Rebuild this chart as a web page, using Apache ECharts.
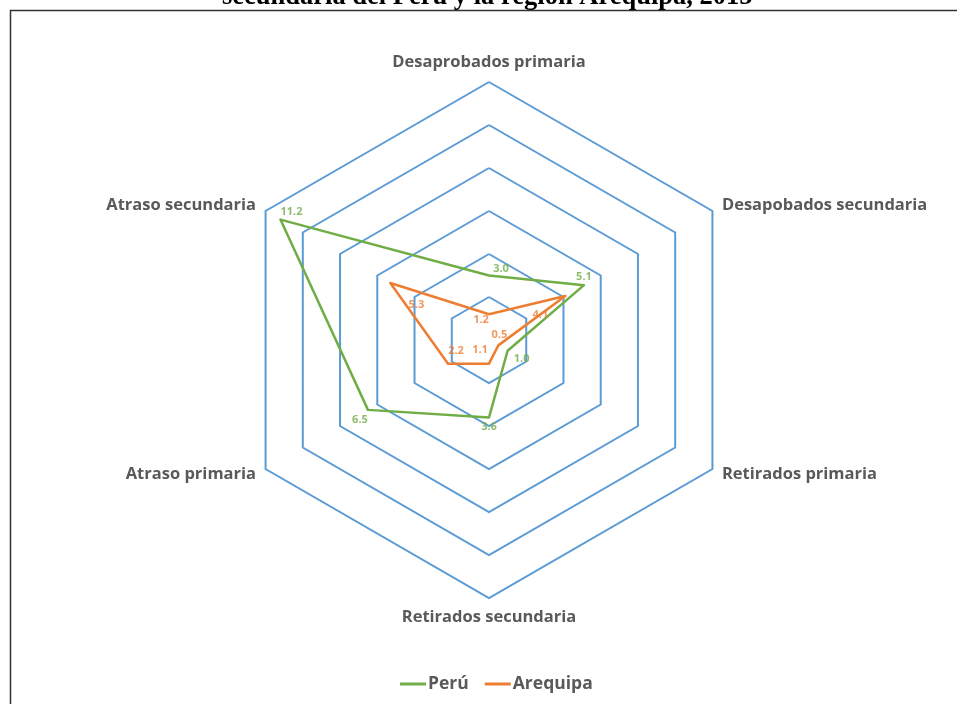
<!DOCTYPE html>
<html>
<head>
<meta charset="utf-8">
<script src="https://cdn.jsdelivr.net/npm/echarts@6/dist/echarts.min.js"></script>
<style>
html,body{margin:0;padding:0;background:#fff;}
#chart{width:957px;height:704px;}
</style>
</head>
<body>
<div id="chart"></div>
<script>
// Categories in clockwise order starting from top
const categories = ['Desaprobados primaria', 'Desapobados secundaria', 'Retirados primaria', 'Retirados secundaria', 'Atraso primaria', 'Atraso secundaria'];
const peru = [3.0, 5.1, 1.0, 3.6, 6.5, 11.2];
const arequipa = [1.2, 4.1, 0.5, 1.1, 2.2, 5.3];
const seriesNames = ['Perú', 'Arequipa'];
const axisMax = 12;
const titleText = 'secundaria del Perú y la región Arequipa, 2015';

// label offsets (pixels, relative to point)
const peruLabelOffsets = [[12,-7],[0,-8],[14,8],[0,9],[-8,10],[11,-8]];
const areqLabelOffsets = [[-8,6],[-25,19],[1,-11],[-9,-14],[8,-13],[26,22]];

const colors = ['#70AD47', '#ED7D31'];
const center = [489, 340];
const radius = 258;

// ECharts radar places indicators counterclockwise; reorder to get clockwise layout
const n = categories.length;
const ccwIdx = [];
for (let i = 0; i < n; i++) ccwIdx.push((n - i) % n);
const indicator = ccwIdx.map(i => ({ name: categories[i], max: axisMax }));
const reorder = arr => ccwIdx.map(i => arr[i]);

function labelSeries(values, offsets, color, name) {
  return {
    type: 'scatter',
    name: name,
    coordinateSystem: 'polar',
    symbolSize: 0,
    silent: true,
    z: 10,
    data: values.map((v, i) => ({
      value: [v, i * 360 / n],
      label: {
        show: true,
        position: 'inside',
        offset: offsets[i],
        formatter: v.toFixed(1),
        color: color,
        fontSize: 11,
        fontWeight: 'bold',
        fontFamily: 'Open Sans'
      }
    }))
  };
}

const chart = echarts.init(document.getElementById('chart'));
chart.setOption({
  backgroundColor: '#fff',
  animation: false,
  color: colors,
  graphic: [
    {
      type: 'rect',
      shape: { x: 10.5, y: 10.5, width: 960, height: 720 },
      style: { fill: 'none', stroke: '#333', lineWidth: 1.5 },
      z: -1
    },
    {
      type: 'text',
      x: 222,
      y: -16,
      style: {
        text: titleText,
        font: 'bold 26.5px "Liberation Serif"',
        fill: '#000'
      }
    }
  ],
  legend: {
    data: seriesNames,
    bottom: 6,
    left: 395,
    icon: 'rect',
    itemWidth: 26,
    itemHeight: 3,
    itemGap: 16,
    textStyle: { color: '#595959', fontSize: 17.5, fontWeight: 'bold', fontFamily: 'Open Sans', padding: [0, 0, 0, -3] }
  },
  radar: {
    center: center,
    radius: radius,
    startAngle: 90,
    shape: 'polygon',
    splitNumber: 6,
    indicator: indicator,
    nameGap: 11,
    axisName: { color: '#595959', fontSize: 16.5, fontWeight: 'bold', fontFamily: 'Open Sans' },
    splitLine: { lineStyle: { color: '#5B9BD5', width: 2 } },
    splitArea: { show: false },
    axisLine: { show: false },
    axisTick: { show: false },
    axisLabel: { show: false }
  },
  polar: { center: center, radius: radius },
  angleAxis: { type: 'value', min: 0, max: 360, startAngle: 90, clockwise: true, show: false },
  radiusAxis: { type: 'value', min: 0, max: axisMax, show: false },
  series: [
    {
      type: 'radar',
      name: seriesNames[0],
      symbol: 'none',
      lineStyle: { color: colors[0], width: 2.5 },
      itemStyle: { color: colors[0] },
      data: [{ name: seriesNames[0], value: reorder(peru) }],
      z: 3
    },
    {
      type: 'radar',
      name: seriesNames[1],
      symbol: 'none',
      lineStyle: { color: colors[1], width: 2.5 },
      itemStyle: { color: colors[1] },
      data: [{ name: seriesNames[1], value: reorder(arequipa) }],
      z: 4
    },
    labelSeries(peru, peruLabelOffsets, colors[0], 'lblPeru'),
    labelSeries(arequipa, areqLabelOffsets, colors[1], 'lblAreq')
  ]
});
</script>
</body>
</html>
